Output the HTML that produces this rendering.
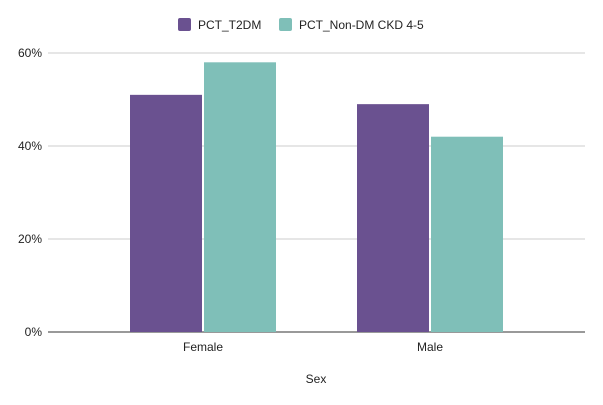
<!DOCTYPE html>
<html><head><meta charset="utf-8"><style>
body{margin:0;background:#fff;font-family:"Liberation Sans",Arial,sans-serif;}
svg{display:block}
</style></head><body>
<svg id="chart" width="603" height="405">
<g id="grid"></g>
<g id="bars"></g>
<g id="axis"></g>
<g>
<rect x="178" y="18" width="13" height="13" rx="2" fill="#6a5190"/>
<text x="198" y="29" font-size="12" fill="#222">PCT_T2DM</text>
<rect x="279" y="18" width="13" height="13" rx="2" fill="#7fbfb8"/>
<text x="299" y="29" font-size="12" fill="#222">PCT_Non-DM CKD 4-5</text>
</g>
<text x="316" y="383" font-size="12" fill="#222" text-anchor="middle">Sex</text>
</svg>
<script>
const categories = ["Female", "Male"];
const seriesT2DM = [51, 49];
const seriesNonDM = [58, 42];
const tickLabels = ["0%", "20%", "40%", "60%"];
const tickValues = [0, 20, 40, 60];
const colors = ["#6a5190", "#7fbfb8"];
const NS = "http://www.w3.org/2000/svg";
const y0 = 332, yTop = 53, vMax = 60;
const yScale = v => y0 - (y0 - yTop) * v / vMax;
const plotL = 89.5, band = 227;
const xCenter = i => plotL + band * (i + 0.5);
function mk(tag, attrs, parent){const e=document.createElementNS(NS,tag);for(const k in attrs)e.setAttribute(k,attrs[k]);parent.appendChild(e);return e;}
const grid=document.getElementById('grid'), bars=document.getElementById('bars'), axis=document.getElementById('axis');
tickValues.forEach((v,i)=>{
  const y=yScale(v);
  const l=mk('line',{x1:48,x2:585,y1:y,y2:y,stroke:v===0?'#333':'#ccc','stroke-width':1},grid);
  
  
  const t=mk('text',{x:42,y:y+4,'font-size':12,fill:'#222','text-anchor':'end'},axis);
  t.textContent=tickLabels[i];
  
  
});
const series=[seriesT2DM, seriesNonDM];
categories.forEach((c,i)=>{
  const cx=xCenter(i);
  series.forEach((s,j)=>{
    const x = j===0 ? cx-73 : cx+1;
    const r=mk('rect',{x:x,y:yScale(s[i]),width:72,height:y0-yScale(s[i]),fill:colors[j]},bars);
    
    
  });
  const t=mk('text',{x:cx,y:351,'font-size':12,fill:'#222','text-anchor':'middle'},axis);
  t.textContent=c;
  
  
});
</script>
</body></html>
